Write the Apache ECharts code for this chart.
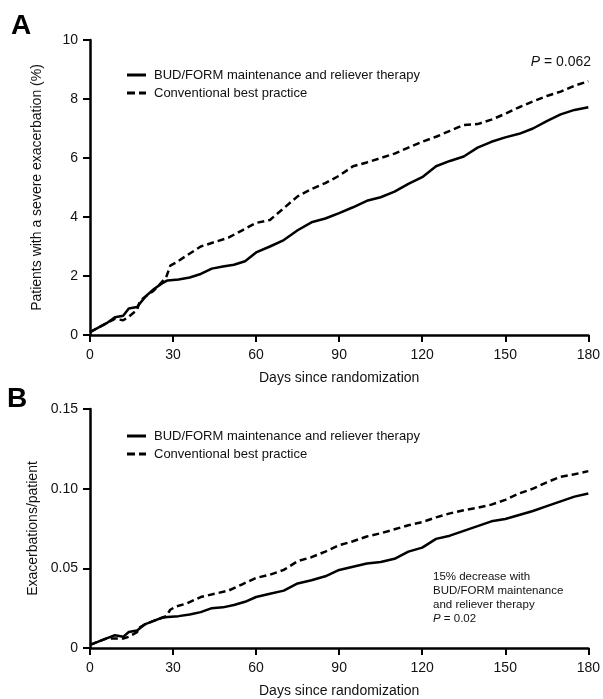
<!DOCTYPE html>
<html>
<head>
<meta charset="utf-8">
<script src="https://cdn.jsdelivr.net/npm/echarts@6/dist/echarts.min.js"></script>
<style>
  html, body { margin: 0; padding: 0; background: #fff; }
  #chart { width: 603px; height: 699px; }
</style>
</head>
<body>
<div id="chart"></div>
<script>
// Panel A: cumulative % patients with a severe exacerbation
const daysBudA = [0, 3, 6, 9, 12, 14, 17, 20, 23, 26, 28, 32, 36, 40, 44, 48, 52, 56, 60, 65, 70, 75, 80, 85, 90, 95, 100, 105, 110, 115, 120, 125, 130, 135, 140, 145, 150, 155, 160, 165, 170, 175, 180]
const valsBudA = [0.1, 0.25, 0.4, 0.6, 0.65, 0.9, 0.95, 1.3, 1.55, 1.75, 1.85, 1.88, 1.95, 2.07, 2.25, 2.32, 2.38, 2.5, 2.8, 3.0, 3.22, 3.55, 3.82, 3.95, 4.13, 4.33, 4.55, 4.67, 4.86, 5.12, 5.35, 5.72, 5.9, 6.05, 6.35, 6.55, 6.7, 6.82, 7.0, 7.25, 7.48, 7.63, 7.72]
const daysCbpA = [0, 3, 6, 9, 12, 14, 17, 18, 20, 23, 26, 27.5, 29, 31, 35, 40, 45, 50, 55, 60, 65, 70, 75, 80, 85, 90, 95, 100, 105, 110, 115, 120, 125, 130, 135, 140, 145, 150, 155, 160, 165, 170, 175, 180]
const valsCbpA = [0.1, 0.25, 0.4, 0.55, 0.5, 0.62, 0.85, 1.15, 1.3, 1.5, 1.8, 1.95, 2.35, 2.45, 2.7, 3.0, 3.15, 3.3, 3.55, 3.8, 3.9, 4.3, 4.7, 4.95, 5.15, 5.4, 5.72, 5.85, 6.0, 6.15, 6.35, 6.55, 6.72, 6.92, 7.12, 7.15, 7.3, 7.5, 7.72, 7.92, 8.1, 8.25, 8.45, 8.6]

// Panel B: exacerbations per patient
const daysBudB = daysBudA
const valsBudB = [0.002, 0.004, 0.006, 0.008, 0.007, 0.01, 0.011, 0.015, 0.017, 0.019, 0.0195, 0.02, 0.021, 0.0225, 0.025, 0.0255, 0.027, 0.029, 0.032, 0.034, 0.036, 0.0405, 0.0425, 0.045, 0.049, 0.051, 0.053, 0.054, 0.056, 0.0605, 0.063, 0.0685, 0.0705, 0.0735, 0.0765, 0.0795, 0.081, 0.0835, 0.086, 0.089, 0.092, 0.095, 0.097]
const daysCbpB = daysCbpA
const valsCbpB = [0.002, 0.004, 0.006, 0.006, 0.006, 0.007, 0.01, 0.013, 0.015, 0.017, 0.019, 0.02, 0.024, 0.026, 0.028, 0.032, 0.034, 0.036, 0.04, 0.044, 0.046, 0.049, 0.0545, 0.057, 0.0605, 0.0645, 0.067, 0.07, 0.072, 0.0745, 0.077, 0.079, 0.082, 0.0845, 0.0865, 0.088, 0.09, 0.093, 0.097, 0.1, 0.104, 0.1075, 0.109, 0.111]

const seriesNames = ['BUD/FORM maintenance and reliever therapy', 'Conventional best practice']
const xTicks = [0, 30, 60, 90, 120, 150, 180]

const FONT = 'Liberation Sans, Arial, Helvetica, sans-serif'
const zip = (xs, ys) => xs.map((x, i) => [x, ys[i]])

// legend swatches: a solid bar and two dashes
const solidIcon = 'path://M0,0h19v3H0z'
const dashIcon = 'path://M0,0h8v3H0zM12,0h7v3H12z'

const chart = echarts.init(document.getElementById('chart'))

function xAxis(gridIndex) {
  return {
    type: 'value',
    gridIndex,
    min: xTicks[0],
    max: xTicks[xTicks.length - 1],
    interval: 30,
    name: 'Days since randomization',
    nameLocation: 'middle',
    nameGap: 36,
    nameTextStyle: { color: '#111', fontSize: 14, fontFamily: FONT },
    axisLine: { onZero: false, lineStyle: { color: '#000', width: 2.5 } },
    axisTick: { length: 7, lineStyle: { color: '#000', width: 2 } },
    axisLabel: { color: '#111', fontSize: 14, fontFamily: FONT, margin: 13 },
    splitLine: { show: false }
  }
}

function yAxis(gridIndex, name, max, interval, fmt) {
  return {
    type: 'value',
    gridIndex,
    min: 0,
    max,
    interval,
    name,
    nameLocation: 'middle',
    nameGap: 46,
    nameTextStyle: { color: '#111', fontSize: 14, fontFamily: FONT },
    axisLine: { show: true, onZero: false, lineStyle: { color: '#000', width: 2.5 } },
    axisTick: { show: true, length: 7, lineStyle: { color: '#000', width: 2 } },
    axisLabel: { color: '#111', fontSize: 14, fontFamily: FONT, margin: 12, formatter: fmt },
    splitLine: { show: false }
  }
}

function line(name, data, idx, dashed) {
  return {
    name,
    type: 'line',
    xAxisIndex: idx,
    yAxisIndex: idx,
    data,
    symbol: 'none',
    showSymbol: false,
    color: '#000',
    lineStyle: { color: '#000', width: 2.5, type: dashed ? [7, 4] : 'solid' },
    animation: false
  }
}

function legend(top) {
  return {
    data: [
      { name: seriesNames[0], icon: solidIcon },
      { name: seriesNames[1], icon: dashIcon }
    ],
    orient: 'vertical',
    left: 122,
    top,
    itemWidth: 19,
    itemHeight: 3,
    itemGap: 4,
    selectedMode: false,
    itemStyle: { color: '#000' },
    textStyle: { color: '#111', fontSize: 13, fontFamily: FONT, lineHeight: 14, padding: [0, 0, 0, 3] }
  }
}

chart.setOption({
  backgroundColor: '#fff',
  animation: false,
  grid: [
    { left: 90, right: 10, top: 40, height: 295 },
    { left: 90, right: 10, top: 409, height: 244 }
  ],
  legend: [legend(63), legend(424)],
  xAxis: [xAxis(0), xAxis(1)],
  yAxis: [
    yAxis(0, 'Patients with a severe exacerbation (%)', 10, 2),
    yAxis(1, 'Exacerbations/patient', 0.15, 0.05, v => (v === 0 ? '0' : v.toFixed(2)))
  ],
  series: [
    line(seriesNames[0], zip(daysBudA, valsBudA), 0, false),
    line(seriesNames[1], zip(daysCbpA, valsCbpA), 0, true),
    line(seriesNames[0], zip(daysBudB, valsBudB), 1, false),
    line(seriesNames[1], zip(daysCbpB, valsCbpB), 1, true)
  ],
  graphic: [
    { type: 'text', left: 11, top: 12, style: { text: 'A', font: 'bold 28px ' + FONT, fill: '#000' } },
    { type: 'text', left: 7, top: 385, style: { text: 'B', font: 'bold 28px ' + FONT, fill: '#000' } },
    {
      type: 'text', right: 12, top: 55,
      style: {
        text: '{i|P} = 0.062',
        font: '14px ' + FONT,
        fill: '#111',
        rich: { i: { fontStyle: 'italic', fontSize: 14, fontFamily: FONT, fill: '#111' } }
      }
    },
    {
      type: 'text', left: 433, top: 570,
      style: {
        text: '15% decrease with\nBUD/FORM maintenance\nand reliever therapy\n{i|P} = 0.02',
        font: '11.5px ' + FONT,
        lineHeight: 14,
        fill: '#111',
        rich: { i: { fontStyle: 'italic', fontSize: 11.5, fontFamily: FONT, fill: '#111', lineHeight: 14 } }
      }
    }
  ]
})
</script>
</body>
</html>
